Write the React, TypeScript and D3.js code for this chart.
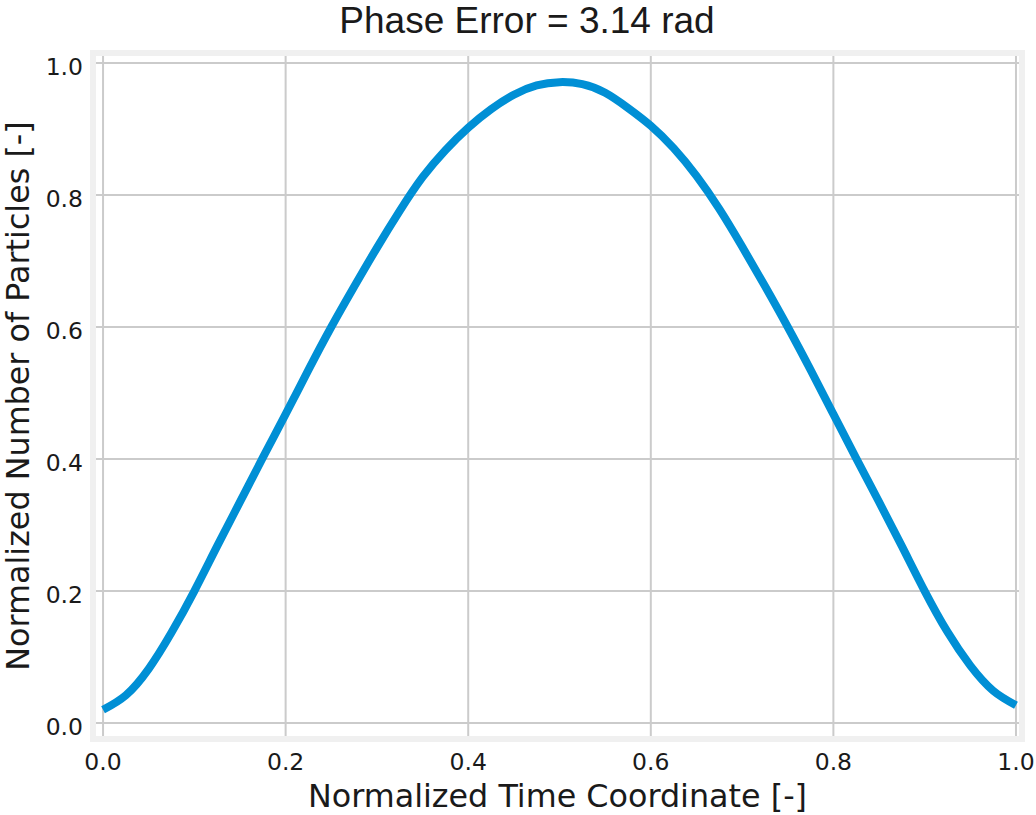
import React from "react";
import * as d3 from "d3";

const titleText = "Phase Error = 3.14 rad";
const xLabel = "Normalized Time Coordinate [-]";
const yLabel = "Normalized Number of Particles [-]";

const xTicks = [0, 0.2, 0.4, 0.6, 0.8, 1.0];
const yTicks = [0, 0.2, 0.4, 0.6, 0.8, 1.0];

const timeCoord = [
  0.0, 0.025, 0.05, 0.075, 0.1, 0.125, 0.15, 0.175, 0.2, 0.225, 0.25, 0.275,
  0.3, 0.325, 0.35, 0.375, 0.4, 0.425, 0.45, 0.475, 0.5, 0.525, 0.55, 0.575,
  0.6, 0.625, 0.65, 0.675, 0.7, 0.725, 0.75, 0.775, 0.8, 0.825, 0.85, 0.875,
  0.9, 0.925, 0.95, 0.975, 1.0,
];
const particles = [
  0.02, 0.042, 0.082, 0.137, 0.2, 0.268, 0.335, 0.402, 0.468, 0.535, 0.6,
  0.661, 0.72, 0.776, 0.827, 0.868, 0.902, 0.93, 0.952, 0.966, 0.971, 0.968,
  0.955, 0.932, 0.905, 0.871, 0.829, 0.779, 0.722, 0.662, 0.6, 0.535, 0.468,
  0.401, 0.335, 0.268, 0.2, 0.138, 0.087, 0.049, 0.027,
];

const W = 1036;
const H = 815;
const left = 93;
const right = 1022;
const top = 53;
const bottom = 739;

export default function App() {
  const x = d3.scaleLinear().domain([-0.011, 1.0066]).range([left, right]);
  const y = d3.scaleLinear().domain([-0.0242, 1.0152]).range([bottom, top]);
  const pts = timeCoord.map((t, i) => [t, particles[i]] as [number, number]);
  const line = d3
    .line<[number, number]>()
    .x((d) => x(d[0]))
    .y((d) => y(d[1]))
    .curve(d3.curveNatural);
  const fmt = d3.format(".1f");
  const tickFont = "'DejaVu Sans', sans-serif";
  return (
    <svg
      width={W}
      height={H}
      style={{ position: "absolute", left: 0, top: 0, background: "#fff" }}
    >
      <rect x={0} y={0} width={W} height={H} fill="#fff" />
      {xTicks.map((t) => (
        <line
          key={"gx" + t}
          x1={x(t)}
          x2={x(t)}
          y1={top}
          y2={bottom}
          stroke="#cbcbcb"
          strokeWidth={2}
        />
      ))}
      {yTicks.map((t) => (
        <line
          key={"gy" + t}
          x1={left}
          x2={right}
          y1={y(t)}
          y2={y(t)}
          stroke="#cbcbcb"
          strokeWidth={2}
        />
      ))}
      <rect
        x={left}
        y={top}
        width={right - left}
        height={bottom - top}
        fill="none"
        stroke="#f0f0f0"
        strokeWidth={6}
      />
      <path
        d={line(pts) || ""}
        fill="none"
        stroke="#008fd5"
        strokeWidth={8}
        strokeLinecap="butt"
        strokeLinejoin="round"
      />
      {xTicks.map((t) => (
        <text
          key={"tx" + t}
          x={x(t)}
          y={770}
          textAnchor="middle"
          fontFamily={tickFont}
          fontSize={23.5}
          fill="#1a1a1a"
        >
          {fmt(t)}
        </text>
      ))}
      {yTicks.map((t) => (
        <text
          key={"ty" + t}
          x={83}
          y={y(t) + 11.5}
          textAnchor="end"
          fontFamily={tickFont}
          fontSize={23.5}
          fill="#1a1a1a"
        >
          {fmt(t)}
        </text>
      ))}
      <text
        x={(left + right) / 2}
        y={806.5}
        textAnchor="middle"
        fontFamily={tickFont}
        fontSize={31.8}
        fill="#1a1a1a"
      >
        {xLabel}
      </text>
      <text
        transform={`translate(29, ${(top + bottom) / 2}) rotate(-90)`}
        textAnchor="middle"
        fontFamily={tickFont}
        fontSize={31.8}
        fill="#1a1a1a"
      >
        {yLabel}
      </text>
      <text
        x={527}
        y={33}
        textAnchor="middle"
        fontFamily="'Liberation Sans', Arial, sans-serif"
        fontSize={37}
        fill="#1a1a1a"
      >
        {titleText}
      </text>
    </svg>
  );
}
